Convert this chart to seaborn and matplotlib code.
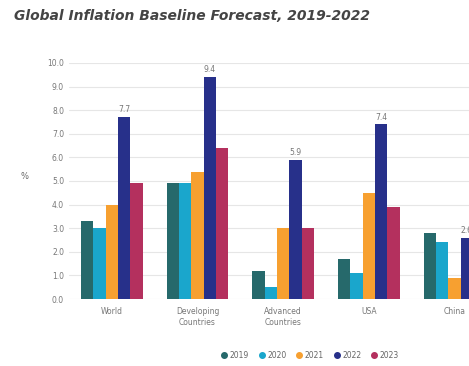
#!/usr/bin/env python3

import matplotlib
matplotlib.use('Agg')
import matplotlib.pyplot as plt
from matplotlib.lines import Line2D
import seaborn as sns
import pandas as pd


REGIONS = ['World', 'Developing\nCountries', 'Advanced\nCountries', 'USA', 'China']
YEARS = ['2019', '2020', '2021', '2022', '2023']
COLORS = ['#26696b', '#1aa6cc', '#f7a030', '#27308a', '#b4305e']

INFL_2019 = [3.3, 4.9, 1.2, 1.7, 2.8]
INFL_2020 = [3.0, 4.9, 0.5, 1.1, 2.4]
INFL_2021 = [4.0, 5.4, 3.0, 4.5, 0.9]
INFL_2022 = [7.7, 9.4, 5.9, 7.4, 2.6]
INFL_2023 = [4.9, 6.4, 3.0, 3.9, 2.0]


def build_frame():
    rows = []
    for year, vals in zip(YEARS, [INFL_2019, INFL_2020, INFL_2021, INFL_2022, INFL_2023]):
        for reg, v in zip(REGIONS, vals):
            rows.append({'Region': reg, 'Year': year, 'Inflation': v})
    return pd.DataFrame(rows)


def main():
    df = build_frame()
    sns.set_style('white')
    fig = plt.figure(figsize=(4.69, 3.66), dpi=100)
    ax = fig.add_axes([0.147, 0.183, 0.853, 0.645])

    sns.barplot(data=df, x='Region', y='Inflation', hue='Year', palette=COLORS,
                width=0.72, gap=0, saturation=1, legend=False, linewidth=0, ax=ax)

    # labels only on the 2022 series
    cont = ax.containers[YEARS.index('2022')]
    ax.bar_label(cont, labels=[f'{v:.1f}' for v in INFL_2022], padding=2,
                 fontsize=5.5, color='#777777')

    ax.set_ylim(0, 10)
    ax.set_xlim(-0.5, 4.17)
    ax.set_yticks(range(0, 11))
    ax.set_yticklabels([f'{v:.1f}' for v in range(0, 11)])
    ax.yaxis.grid(True, color='#e6e6e6', linewidth=0.8)
    ax.set_axisbelow(True)
    sns.despine(ax=ax, left=True, bottom=True)
    ax.tick_params(axis='both', labelsize=5.5, labelcolor='#777777', length=0)
    ax.tick_params(axis='x', pad=6)
    ax.set_xlabel('')
    ax.set_ylabel('%', fontsize=6, color='#666666', rotation=0, labelpad=16)

    fig.text(0.03, 0.955, 'Global Inflation Baseline Forecast, 2019-2022',
             fontsize=10, fontweight='bold', fontstyle='italic', color='#444444',
             va='center', ha='left')

    handles = [Line2D([0], [0], marker='o', color='none', markerfacecolor=c,
                      markeredgecolor=c, markersize=4, label=y)
               for c, y in zip(COLORS, YEARS)]
    fig.legend(handles=handles, loc='center', bbox_to_anchor=(0.66, 0.03), ncol=5,
               frameon=False, fontsize=5.5, labelcolor='#666666', handletextpad=0.2,
               columnspacing=1.2, handlelength=1.0)

    fig.savefig('out.png', dpi=100)


if __name__ == '__main__':
    main()
